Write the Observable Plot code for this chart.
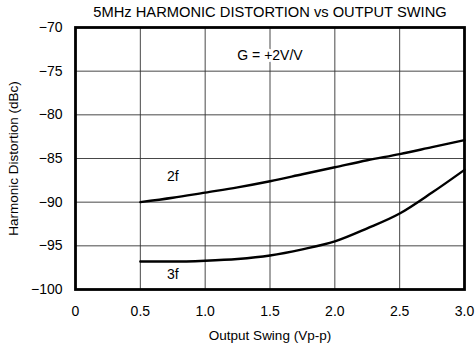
<!DOCTYPE html>
<html>
<head>
<meta charset="utf-8">
<script src="https://cdn.jsdelivr.net/npm/d3@7"></script>
<script src="https://cdn.jsdelivr.net/npm/@observablehq/plot@0.6"></script>
<style>
  html, body { margin: 0; padding: 0; background: #fff; }
  #chart svg { display: block; }
</style>
</head>
<body>
<div id="chart"></div>
<script>
const titleText = "5MHz HARMONIC DISTORTION vs OUTPUT SWING";
const xLabel = "Output Swing (Vp-p)";
const yLabel = "Harmonic Distortion (dBc)";
const gainLabel = "G = +2V/V";

const swing = [0.5, 0.75, 1.0, 1.25, 1.5, 1.75, 2.0, 2.25, 2.5, 2.75, 3.0];
const hd2 = [-90.0, -89.5, -88.9, -88.3, -87.6, -86.8, -86.0, -85.2, -84.5, -83.7, -82.9];
const hd3 = [-96.8, -96.8, -96.7, -96.5, -96.1, -95.4, -94.5, -93.0, -91.3, -88.9, -86.3];

const xTicks = [0, 0.5, 1.0, 1.5, 2.0, 2.5, 3.0];
const yTicks = [-70, -75, -80, -85, -90, -95, -100];

const seriesLabels = [
  {name: "2f", x: 0.75, y: -87.1},
  {name: "3f", x: 0.75, y: -98.3}
];
const gainPos = {x: 1.5, y: -73.2};

const data2f = swing.map((s, i) => ({x: s, y: hd2[i]}));
const data3f = swing.map((s, i) => ({x: s, y: hd3[i]}));

const font = "'Liberation Sans', Arial, Helvetica, sans-serif";

const chart = Plot.plot({
  width: 476,
  height: 349,
  marginTop: 27,
  marginBottom: 60,
  marginLeft: 75,
  marginRight: 12,
  style: {fontFamily: font, fontSize: "14px", color: "#000", background: "#fff"},
  x: {domain: [0, 3], ticks: xTicks},
  y: {domain: [-100, -70], ticks: yTicks},
  marks: [
    Plot.gridX(xTicks.slice(1, -1), {stroke: "#333", strokeOpacity: 1, strokeWidth: 0.9}),
    Plot.gridY(yTicks.slice(1, -1), {stroke: "#333", strokeOpacity: 1, strokeWidth: 0.9}),
    Plot.axisX({ticks: xTicks, tickSize: 0, tickPadding: 17, tickFormat: d => d === 0 ? "0" : d.toFixed(1),
      label: null, fontSize: 14}),
    Plot.axisY({ticks: yTicks, tickSize: 0, tickPadding: 13, tickFormat: d => String(d).replace("-", "\u2212"),
      label: null, fontSize: 14}),
    Plot.text([xLabel], {frameAnchor: "bottom", lineAnchor: "middle", dy: 46, text: d => d, fill: "#000", fontSize: 13.5}),
    Plot.text([yLabel], {frameAnchor: "left", lineAnchor: "middle", textAnchor: "middle", dx: -62, rotate: -90, text: d => d, fill: "#000", fontSize: 13.5}),
    Plot.text([gainLabel], {x: gainPos.x, y: gainPos.y, text: d => d, fill: "#000", stroke: "white", strokeWidth: 6, fontSize: 14}),
    Plot.line(data2f, {x: "x", y: "y", curve: "monotone-x", stroke: "#000", strokeWidth: 2.4}),
    Plot.line(data3f, {x: "x", y: "y", curve: "monotone-x", stroke: "#000", strokeWidth: 2.4}),
    Plot.text(seriesLabels, {x: "x", y: "y", text: "name", fill: "#000", fontSize: 14}),
    Plot.frame({stroke: "#000", strokeWidth: 2.8}),
    Plot.text([titleText], {frameAnchor: "top", lineAnchor: "middle", dy: -15, text: d => d, fill: "#000", fontSize: 14.7})
  ]
});
document.getElementById("chart").appendChild(chart);
</script>
</body>
</html>
